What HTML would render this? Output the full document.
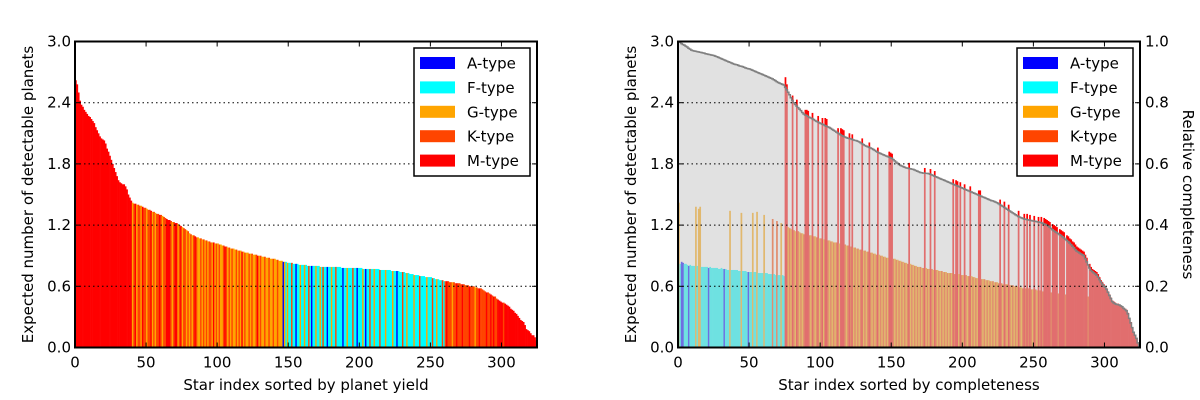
<!DOCTYPE html>
<html><head><meta charset="utf-8">
<style>
html,body{margin:0;padding:0;background:#fff;}
svg{display:block;font-family:"DejaVu Sans","Liberation Sans",sans-serif;}
</style></head>
<body>
<svg id="fig" width="1200" height="400" viewBox="0 0 1200 400" xmlns="http://www.w3.org/2000/svg"></svg>
<script>
const typeNames = ["A","F","G","K","M"];
const typeColors = {A:"#0000ff",F:"#00ffff",G:"#ffa500",K:"#ff4500",M:"#ff0000"};
const legendLabels = ["A-type","F-type","G-type","K-type","M-type"];
const yTicks = [0.0,0.6,1.2,1.8,2.4,3.0];
const y2Ticks = [0.0,0.2,0.4,0.6,0.8,1.0];
const xTicks = [0,50,100,150,200,250,300];

const leftValues = [
2.62,2.58,2.50,2.42,2.38,2.36,2.33,2.31,2.29,2.27,
2.26,2.24,2.22,2.20,2.16,2.13,2.10,2.07,2.05,2.04,
2.03,2.00,1.95,1.92,1.88,1.84,1.80,1.76,1.72,1.68,
1.64,1.62,1.61,1.60,1.60,1.58,1.55,1.50,1.47,1.44,
1.42,1.41,1.41,1.40,1.40,1.39,1.39,1.38,1.37,1.37,
1.36,1.35,1.35,1.34,1.33,1.33,1.32,1.31,1.31,1.30,
1.30,1.29,1.28,1.27,1.26,1.25,1.25,1.24,1.23,1.23,
1.22,1.22,1.21,1.20,1.19,1.18,1.17,1.16,1.15,1.14,
1.12,1.11,1.10,1.10,1.09,1.08,1.08,1.07,1.07,1.06,
1.06,1.05,1.05,1.04,1.04,1.03,1.03,1.03,1.02,1.02,
1.02,1.01,1.01,1.00,1.00,0.99,0.99,0.98,0.98,0.97,
0.97,0.97,0.96,0.96,0.95,0.95,0.95,0.94,0.94,0.93,
0.93,0.93,0.92,0.92,0.92,0.91,0.91,0.91,0.90,0.90,
0.90,0.89,0.89,0.89,0.88,0.88,0.88,0.87,0.87,0.87,
0.87,0.86,0.86,0.85,0.85,0.85,0.84,0.84,0.84,0.83,
0.83,0.83,0.83,0.82,0.82,0.82,0.82,0.81,0.81,0.81,
0.81,0.81,0.81,0.80,0.80,0.80,0.80,0.80,0.80,0.80,
0.80,0.80,0.79,0.79,0.79,0.79,0.79,0.79,0.79,0.79,
0.79,0.79,0.79,0.79,0.79,0.79,0.79,0.78,0.78,0.78,
0.78,0.78,0.78,0.78,0.78,0.78,0.78,0.78,0.78,0.78,
0.78,0.78,0.77,0.77,0.77,0.77,0.77,0.77,0.77,0.77,
0.77,0.77,0.77,0.77,0.76,0.76,0.76,0.76,0.76,0.76,
0.76,0.76,0.75,0.75,0.75,0.75,0.75,0.75,0.74,0.74,
0.74,0.74,0.73,0.73,0.73,0.72,0.72,0.72,0.71,0.71,
0.71,0.71,0.70,0.70,0.70,0.70,0.69,0.69,0.69,0.69,
0.69,0.68,0.68,0.67,0.67,0.67,0.66,0.66,0.66,0.65,
0.65,0.65,0.65,0.64,0.64,0.64,0.64,0.63,0.63,0.63,
0.63,0.62,0.62,0.62,0.61,0.61,0.61,0.60,0.60,0.60,
0.60,0.59,0.59,0.58,0.58,0.58,0.57,0.56,0.55,0.54,
0.54,0.53,0.52,0.51,0.50,0.50,0.48,0.47,0.46,0.45,
0.44,0.44,0.43,0.42,0.41,0.40,0.38,0.37,0.36,0.34,
0.33,0.31,0.29,0.27,0.26,0.25,0.22,0.18,0.17,0.16,
0.14,0.12,0.12,0.10,0.07];
const leftTypes = ("MMMMMMMMMMMMMMMMMMMMMMMMMMMMMMMMMMMMMMMM"+
"GKMGKKGMKK"+"GKKMGKGKKM"+"KGKKMMMKGK"+"MMGKMGKKGK"+"GKGKMKGGKG"+
"KGKGKKGMGK"+"GKGGKMKGKG"+"KGGKGKGMGK"+"GGKGKGGKMG"+"KGGKGGKGGK"+
"GGKGGGAGFG"+"FFKFFAFFGF"+"FGFFKFAFFG"+"FFGFKFFAFF"+"GFFKFFFFAF"+
"FGFFFKFFAF"+"FFGFAFFKFF"+"GFFFKFFFGF"+"FFFGFFAFFF"+"KFFGFFFFGF"+
"FFKFFFFGFF"+"FKFFGFFFKF"+"KMKKKGKKMK"+"KKMKKKKMKK"+"KGKKMKKKKM"+
"KKMKMKKMMM"+"MKMMMMMMMM"+"MMMMMMMMMM"+"MMMMM").split("");

const rightCompleteness = [
1.000,0.997,0.993,0.990,0.988,0.985,0.982,0.978,0.975,0.972,
0.970,0.969,0.968,0.967,0.966,0.965,0.964,0.963,0.962,0.960,
0.959,0.958,0.957,0.956,0.955,0.954,0.952,0.950,0.948,0.946,
0.944,0.942,0.940,0.938,0.936,0.934,0.932,0.930,0.928,0.926,
0.925,0.924,0.922,0.920,0.919,0.918,0.916,0.914,0.912,0.911,
0.910,0.908,0.906,0.904,0.902,0.900,0.898,0.896,0.894,0.892,
0.890,0.888,0.886,0.884,0.882,0.880,0.878,0.875,0.872,0.869,
0.866,0.864,0.862,0.860,0.858,0.850,0.842,0.834,0.826,0.816,
0.807,0.800,0.794,0.789,0.784,0.779,0.774,0.768,0.763,0.760,
0.758,0.755,0.752,0.750,0.748,0.745,0.742,0.739,0.737,0.734,
0.732,0.730,0.728,0.725,0.723,0.721,0.719,0.716,0.713,0.710,
0.707,0.704,0.701,0.698,0.695,0.692,0.690,0.688,0.686,0.684,
0.683,0.682,0.680,0.678,0.677,0.676,0.674,0.672,0.669,0.666,
0.663,0.660,0.658,0.656,0.654,0.652,0.650,0.647,0.644,0.641,
0.638,0.636,0.634,0.632,0.630,0.628,0.626,0.624,0.622,0.620,
0.618,0.614,0.610,0.606,0.602,0.598,0.595,0.593,0.591,0.589,
0.587,0.586,0.585,0.584,0.583,0.582,0.580,0.578,0.576,0.574,
0.572,0.571,0.570,0.570,0.569,0.569,0.568,0.566,0.564,0.562,
0.560,0.558,0.556,0.554,0.552,0.550,0.548,0.546,0.544,0.542,
0.540,0.538,0.536,0.534,0.532,0.530,0.528,0.526,0.524,0.522,
0.520,0.518,0.516,0.514,0.512,0.510,0.508,0.506,0.504,0.502,
0.500,0.498,0.496,0.494,0.492,0.490,0.488,0.486,0.484,0.482,
0.480,0.479,0.477,0.475,0.473,0.470,0.467,0.464,0.461,0.458,
0.455,0.452,0.449,0.446,0.443,0.440,0.437,0.434,0.431,0.428,
0.426,0.424,0.422,0.420,0.419,0.418,0.417,0.416,0.415,0.414,
0.413,0.412,0.411,0.410,0.409,0.408,0.406,0.404,0.402,0.400,
0.397,0.393,0.389,0.385,0.381,0.378,0.375,0.372,0.369,0.366,
0.362,0.358,0.354,0.350,0.346,0.341,0.336,0.331,0.326,0.320,
0.315,0.312,0.309,0.306,0.303,0.300,0.290,0.280,0.270,0.260,
0.252,0.248,0.244,0.240,0.236,0.230,0.222,0.214,0.207,0.201,
0.197,0.190,0.180,0.170,0.160,0.150,0.146,0.143,0.141,0.140,
0.139,0.136,0.133,0.128,0.124,0.120,0.110,0.095,0.080,0.065,
0.050,0.040,0.030,0.015,0.005];
const rightValues = [
1.42,0.82,0.84,0.83,0.82,0.82,0.81,0.80,0.81,0.80,
0.80,0.80,1.38,0.80,1.36,1.38,0.79,0.79,0.79,0.79,
0.79,0.78,0.79,0.78,0.78,0.78,0.78,0.78,0.77,0.77,
0.78,0.77,0.77,0.77,0.76,0.76,1.34,0.76,0.76,0.76,
0.76,0.76,0.75,0.75,1.32,0.75,0.75,0.75,0.74,0.74,
0.74,0.74,1.32,0.74,0.74,1.33,0.73,0.73,0.73,0.73,
1.30,0.73,0.73,0.72,0.72,0.72,1.26,0.72,0.71,1.24,
0.71,0.71,1.22,0.71,0.70,2.65,2.58,1.18,1.17,1.16,
2.47,1.15,1.14,2.43,1.14,1.13,1.12,1.12,1.11,2.33,
2.33,2.32,1.10,1.10,2.30,1.09,1.09,1.08,2.27,1.07,
1.07,2.25,1.06,2.25,2.24,1.05,1.05,1.04,1.04,1.03,
1.03,1.03,2.15,1.02,2.15,2.14,2.13,1.01,1.00,1.00,
2.10,0.99,2.09,0.98,0.98,0.97,0.97,0.96,0.96,2.05,
0.95,0.95,0.94,0.94,2.01,0.93,0.93,0.92,0.92,0.91,
1.96,0.91,0.90,0.90,0.89,0.89,0.88,0.88,1.92,1.91,
1.90,0.87,0.87,0.86,0.86,0.85,0.85,0.84,0.84,0.83,
0.83,0.82,1.81,0.82,0.81,0.81,0.80,0.80,0.79,0.79,
0.79,0.78,0.78,1.76,0.78,0.77,0.77,1.75,0.77,0.76,
1.73,0.76,0.76,0.75,0.75,0.75,0.74,0.74,0.74,0.73,
0.73,0.73,0.73,1.65,0.72,1.64,1.63,0.72,1.62,0.71,
0.71,1.60,0.71,0.70,0.70,1.58,0.70,0.69,0.69,0.68,
0.68,1.54,1.54,0.67,0.67,0.67,0.66,0.66,0.66,0.65,
0.65,0.65,0.64,0.64,0.64,0.63,1.45,0.63,0.62,1.43,
0.62,0.62,1.40,0.61,0.61,0.61,0.60,0.60,0.60,1.34,
0.59,0.59,0.58,1.31,0.58,1.31,0.58,1.30,0.57,0.57,
1.29,0.57,0.56,1.28,0.56,1.28,0.55,1.27,1.26,1.25,
1.24,1.23,0.54,1.21,1.20,1.19,1.18,0.53,1.16,1.15,
1.14,1.13,0.52,1.10,1.09,1.07,1.06,1.04,1.03,1.01,
0.99,0.98,0.97,0.96,0.95,0.94,0.91,0.88,0.50,0.82,
0.79,0.77,0.76,0.75,0.74,0.72,0.69,0.66,0.64,0.62,
0.60,0.58,0.55,0.52,0.49,0.46,0.45,0.44,0.43,0.43,
0.42,0.41,0.40,0.39,0.38,0.37,0.34,0.29,0.25,0.20,
0.15,0.12,0.09,0.05,0.02];
const rightTypes = ("GFAAFFFAFF"+"FFGFGGFFFF"+"FAFFFFFFFF"+"FFAFFFGFFF"+"FFFFGFFFFA"+
"FFGFFGFFFF"+"GFFFFFKFFK"+"FFGFFMMGKG"+"MKGMKGKGKM"+"MMKGMKGKMG"+
"KMGMMKGKGK"+"GKMGMMMKGK"+"MKMGKGKGKM"+"GKGKMKGKGK"+"MGKGKGKGMM"+
"MKGKGKGKGK"+"GKMGKGKGKG"+"KGKMGKGMKG"+"MKGKGKGKGK"+"GKGMKMMGMK"+
"GMKGKMGKGK"+"GMMKGKGKGK"+"GKGKGKMKGM"+"KGMKGKGKGM"+"KGKMKMKMKG"+
"MKGMKMKMMM"+"MMKMMMMKMM"+"MMKMMMMMMM"+"MMMMMMMMKM"+"MMMMMMMMMM"+
"MMMMMMMMMM"+"MMMMMMMMMM"+"MMMMM").split("");

const NS = "http://www.w3.org/2000/svg";
const svg = document.getElementById("fig");
const N = 325, YMAX = 3.0, Y0 = 347.5, YTOP = 41.5;
function mk(tag, attrs, parent){
  const e = document.createElementNS(NS, tag);
  for (const k in attrs) e.setAttribute(k, attrs[k]);
  (parent || svg).appendChild(e);
  return e;
}
function makeAxes(x0){
  const W = 462;
  return {
    x0: x0, W: W,
    x: function(i){ return x0 + i * W / N; },
    y: function(v){ return Y0 - v / YMAX * (Y0 - YTOP); },
    y2: function(c){ return Y0 - c * (Y0 - YTOP); }
  };
}
function drawFrame(ax, g, prefix, hasY2){
  // grid
  yTicks.forEach(function(t){
    if (t === 0 || t === 3.0) return;
    const l = mk("line", {x1: ax.x0, x2: ax.x0 + ax.W, y1: ax.y(t), y2: ax.y(t), stroke: "#000", "stroke-width": 1, "stroke-dasharray": "1.5,3"}, g);
    
    
  });
  const fr = mk("rect", {x: ax.x0, y: YTOP, width: ax.W, height: Y0 - YTOP, fill: "none", stroke: "#000", "stroke-width": 2}, g);
  
  
  xTicks.forEach(function(t){
    const x = ax.x(t);
    mk("line", {x1: x, x2: x, y1: Y0, y2: Y0 - 5, stroke: "#000", "stroke-width": 1}, g);
    mk("line", {x1: x, x2: x, y1: YTOP, y2: YTOP + 5, stroke: "#000", "stroke-width": 1}, g);
    const tx = mk("text", {x: x, y: Y0 + 20, "text-anchor": "middle", "font-size": 15}, g);
    tx.textContent = String(t);
    
    
  });
  yTicks.forEach(function(t){
    const y = ax.y(t);
    mk("line", {x1: ax.x0, x2: ax.x0 + 5, y1: y, y2: y, stroke: "#000", "stroke-width": 1}, g);
    if (!hasY2) mk("line", {x1: ax.x0 + ax.W, x2: ax.x0 + ax.W - 5, y1: y, y2: y, stroke: "#000", "stroke-width": 1}, g);
    const tx = mk("text", {x: ax.x0 - 4, y: y + 5, "text-anchor": "end", "font-size": 15}, g);
    tx.textContent = t.toFixed(1);
    
    
  });
  if (hasY2){
    y2Ticks.forEach(function(t){
      const y = ax.y2(t);
      mk("line", {x1: ax.x0 + ax.W, x2: ax.x0 + ax.W - 5, y1: y, y2: y, stroke: "#000", "stroke-width": 1}, g);
      const tx = mk("text", {x: ax.x0 + ax.W + 5, y: y + 5, "text-anchor": "start", "font-size": 15}, g);
      tx.textContent = t.toFixed(1);
      
      
    });
  }
}
function drawLegend(ax, g, prefix){
  const lg = mk("g", {}, g);
  
  
  const lx = ax.x0 + ax.W - 123, ly = 48;
  mk("rect", {x: lx, y: ly, width: 116, height: 128, fill: "#fff", stroke: "#000", "stroke-width": 1.5}, lg);
  legendLabels.forEach(function(lab, k){
    const cy = ly + 15 + k * 24.4;
    const e = mk("g", {}, lg);
    
    
    mk("rect", {x: lx + 6, y: cy - 6, width: 35, height: 12, fill: typeColors[typeNames[k]]}, e);
    const t = mk("text", {x: lx + 53, y: cy + 5.5, "font-size": 15}, e);
    t.textContent = lab;
  });
}
function drawLabels(ax, g, prefix, xlab, y2lab){
  const xl = mk("text", {x: ax.x0 + ax.W / 2, y: 390, "text-anchor": "middle", "font-size": 15}, g);
  xl.textContent = xlab;
  
  
  const cx = ax.x0 - 42, cy = (Y0 + YTOP) / 2;
  const yl = mk("text", {x: cx, y: cy, "text-anchor": "middle", "font-size": 15, transform: "rotate(-90 " + cx + " " + cy + ")"}, g);
  yl.textContent = "Expected number of detectable planets";
  
  
  if (y2lab){
    const rx = ax.x0 + ax.W + 43;
    const r = mk("text", {x: rx, y: cy, "text-anchor": "middle", "font-size": 15, transform: "rotate(90 " + rx + " " + cy + ")"}, g);
    r.textContent = y2lab;
    
    
  }
}

// LEFT PANEL
const axL = makeAxes(75);
const gL = mk("g", {});


const barsL = mk("g", {}, gL);


leftValues.forEach(function(v, i){
  const x = axL.x(i), w = axL.x(i + 1) - x;
  const r = mk("rect", {x: x, y: axL.y(v), width: w + 0.3, height: Y0 - axL.y(v), fill: typeColors[leftTypes[i]]}, barsL);
  
  
});
drawFrame(axL, gL, "left", false);
drawLegend(axL, gL, "left");
drawLabels(axL, gL, "left", "Star index sorted by planet yield", null);

// RIGHT PANEL
const axR = makeAxes(678);
const gR = mk("g", {});


const barsR = mk("g", {}, gR);


rightValues.forEach(function(v, i){
  const x = axR.x(i), w = axR.x(i + 1) - x;
  const r = mk("rect", {x: x, y: axR.y(v), width: w + 0.3, height: Y0 - axR.y(v), fill: typeColors[rightTypes[i]]}, barsR);
  
  
});
let dArea = "M" + axR.x(0) + "," + Y0, dLine = "";
rightCompleteness.forEach(function(c, i){
  const y = axR.y2(c);
  dArea += " L" + axR.x(i) + "," + y + " L" + axR.x(i + 1) + "," + y;
  dLine += (i === 0 ? "M" : " L") + axR.x(i) + "," + y + " L" + axR.x(i + 1) + "," + y;
});
dArea += " L" + axR.x(N) + "," + Y0 + " Z";
const area = mk("path", {d: dArea, fill: "rgba(200,200,200,0.55)", stroke: "none"}, gR);


const cl = mk("path", {d: dLine, fill: "none", stroke: "#808080", "stroke-width": 1.5}, gR);


drawFrame(axR, gR, "right", true);
drawLegend(axR, gR, "right");
drawLabels(axR, gR, "right", "Star index sorted by completeness", "Relative completeness");
</script>
</body></html>
